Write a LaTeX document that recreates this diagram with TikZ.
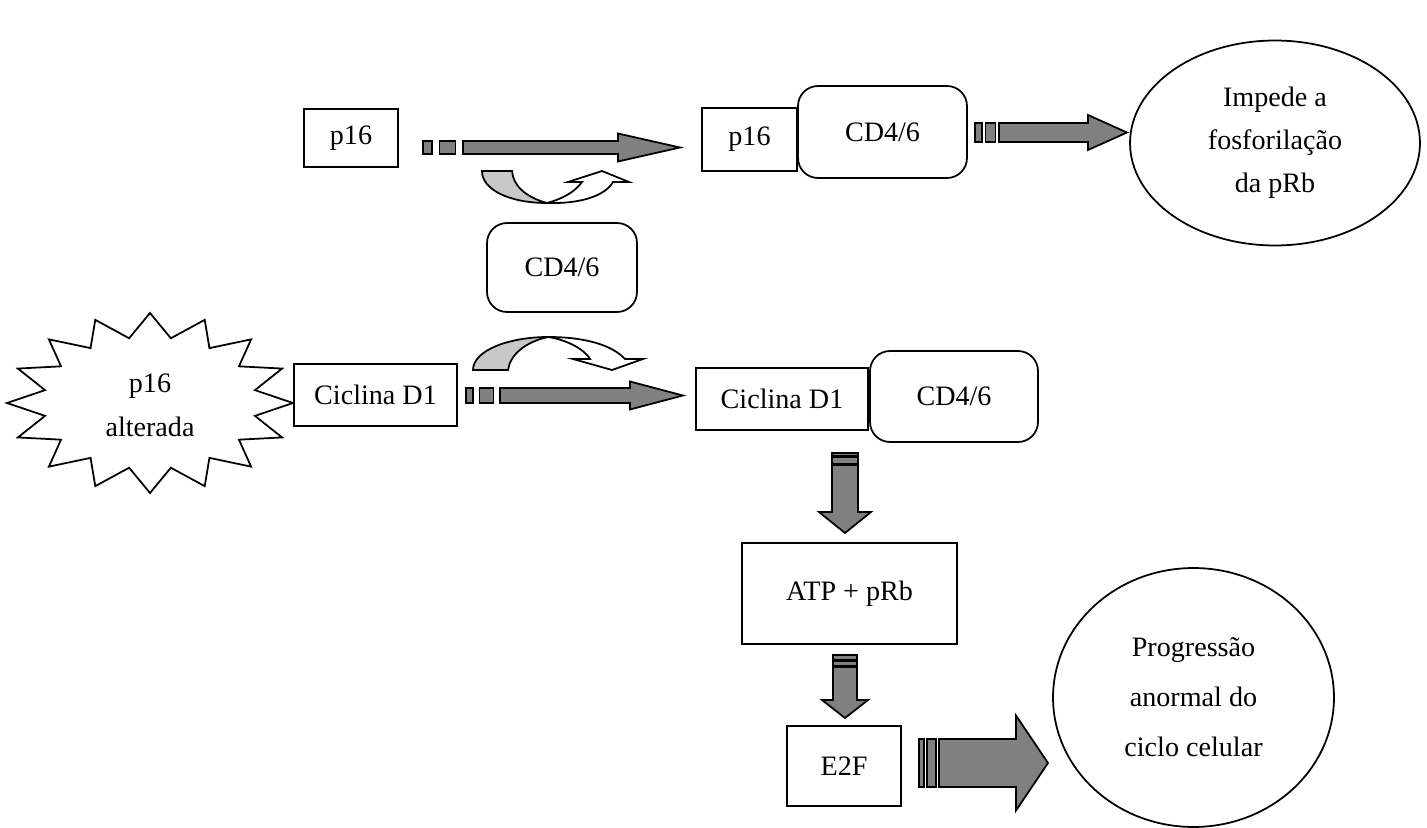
\documentclass[tikz,border=0pt]{standalone}
\usepackage{fontspec}
\setmainfont{Liberation Serif}
\usetikzlibrary{shapes.geometric}

\definecolor{arrowgray}{HTML}{808080}
\definecolor{backgray}{HTML}{C8C8C8}

\tikzset{
  box/.style={draw, line width=1pt, fill=white, inner sep=0pt},
  rbox/.style={box, rounded corners=0.4cm},
  oval/.style={draw, line width=1pt, ellipse, inner sep=0pt, align=center},
  barfill/.style={draw, line width=1pt, fill=arrowgray, line join=miter},
  uturn/.style={draw, line width=1pt, line join=miter},
}

% #1 start, #2 angle, #3 shaft half, #4 head half, #5 bar1, #6 gap, #7 bar2, #8 head base, #9 tip
\newcommand{\stripearrow}[9]{%
  \begin{scope}[shift={(#1)}, rotate=#2]
    \draw[barfill] (0,-#3) rectangle (#5,#3);
    \draw[barfill] (#5+#6,-#3) rectangle (#5+#6+#7,#3);
    \draw[barfill] (#5+2*#6+#7,-#3) -- (#8,-#3) -- (#8,-#4) -- (#9,0)
      -- (#8,#4) -- (#8,#3) -- (#5+2*#6+#7,#3) -- cycle;
  \end{scope}}

\begin{document}
\begin{tikzpicture}[x=0.02cm, y=-0.02cm, font=\fontsize{16}{22.5}\selectfont]
\useasboundingbox (0,0) rectangle (1427,828);

% top row
\node[box, minimum width=1.88cm, minimum height=1.16cm] (p16a) at (351,138) {p16};
\node[box, minimum width=1.90cm, minimum height=1.26cm] (p16b) at (749.5,139.5) {p16};
\node[rbox, minimum width=3.38cm, minimum height=1.84cm] (cdkA) at (882.5,132) {CD4/6};
\node[oval, minimum width=5.8cm, minimum height=4.1cm, font=\fontsize{16}{24.5}\selectfont]
  (impede) at (1275,143) {Impede a\\fosforilação\\da pRb};

% middle
\node[rbox, minimum width=3.0cm, minimum height=1.78cm] (cdkB) at (562,267.5) {CD4/6};

% second row
\node[align=center, font=\fontsize{16}{25}\selectfont] (burst) at (150,405) {p16\\alterada};
\begin{scope}[shift={(burst.center)}, yshift=0.04cm]
  \draw[line width=1pt] plot[samples at={0,...,31}, variable=\k]
    ({(143-36*mod(\k,2))*cos(90+11.25*\k)}, {(90-24*mod(\k,2))*sin(90+11.25*\k)}) -- cycle;
\end{scope}
\node[box, minimum width=3.26cm, minimum height=1.24cm] (cicA) at (375.5,395) {Ciclina D1};
\node[box, minimum width=3.44cm, minimum height=1.24cm] (cicB) at (782,399) {Ciclina D1};
\node[rbox, minimum width=3.36cm, minimum height=1.82cm] (cdkC) at (954,396.5) {CD4/6};

% lower part
\node[box, minimum width=4.30cm, minimum height=2.02cm] (atp) at (849.5,593.5) {ATP + pRb};
\node[box, minimum width=2.28cm, minimum height=1.60cm] (e2f) at (844,766) {E2F};
\node[oval, minimum width=5.62cm, minimum height=5.18cm, font=\fontsize{16}{28.5}\selectfont]
  (prog) at (1193.5,697.5) {Progressão\\anormal do\\ciclo celular};

% block arrows
\coordinate (a1) at (423,147.5);
\coordinate (a2) at (466,395.5);
\coordinate (a3) at (975,132.5);
\coordinate (a4) at (845,453);
\coordinate (a5) at (845,655);
\coordinate (a6) at (919,763);
\stripearrow{a1}{0}{6.5}{14}{9}{7.5}{16}{195}{257}
\stripearrow{a2}{0}{7.5}{14}{7}{6.5}{14}{164}{217}
\stripearrow{a3}{0}{9.5}{17.5}{7}{3.5}{10}{113}{152}
\stripearrow{a4}{-90}{13}{26}{3}{1.5}{6}{59}{80}
\stripearrow{a5}{-90}{12}{23}{5}{1.5}{4}{45}{63}
\stripearrow{a6}{0}{24}{47.5}{5}{3}{9}{97}{129}

% bent arrow under the first arrow
\draw[uturn, fill=backgray] (482,171) -- (512,171)
  .. controls (513,185) and (525,197) .. (547,203)
  .. controls (510,203) and (482,190) .. (482,171) -- cycle;
\draw[uturn, fill=white] (547,203) .. controls (562,199) and (575,192) .. (582,182)
  -- (568,182) -- (602,171) -- (629,182) -- (613,182)
  .. controls (605,196) and (580,204) .. (547,203) -- cycle;

% bent arrow over the second arrow
\draw[uturn, fill=backgray] (473,370) -- (508,370)
  .. controls (510,355) and (525,342) .. (548,337)
  .. controls (510,337) and (473,350) .. (473,370) -- cycle;
\draw[uturn, fill=white] (548,337) .. controls (568,340) and (585,350) .. (590,359)
  -- (573,359) -- (612,370) -- (643,359) -- (625,359)
  .. controls (612,345) and (585,337) .. (548,337) -- cycle;

\end{tikzpicture}
\end{document}
